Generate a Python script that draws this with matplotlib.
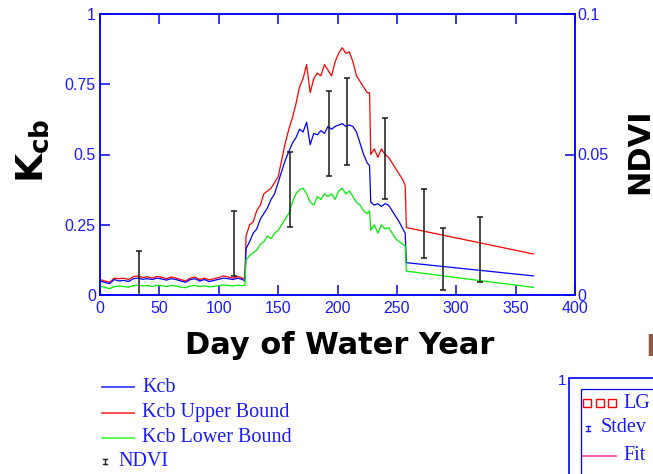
import matplotlib
matplotlib.use('Agg')
import matplotlib.pyplot as plt
from matplotlib.lines import Line2D
from matplotlib.patches import Rectangle

# Kcb curves (day of water year)
days = [0, 4, 8, 12, 16, 20, 24, 28, 32, 36, 40, 44, 48, 52, 56, 60, 64, 68, 72, 76,
        80, 84, 88, 92, 96, 100, 104, 108, 112, 116, 120, 122,
        123, 126, 129, 132, 135, 138, 141, 144, 147, 150, 153, 156, 159, 162, 165, 168,
        171, 174, 177, 180, 183, 186, 189, 192, 195, 198, 201, 204, 207, 210, 213, 216,
        219, 222, 225, 227,
        228, 231, 234, 237, 240, 243, 246, 249, 252, 255, 257, 258, 365]

kcb = [0.050, 0.045, 0.040, 0.055, 0.050, 0.052, 0.048, 0.058, 0.060, 0.056, 0.058, 0.055,
       0.060, 0.057, 0.053, 0.058, 0.055, 0.050, 0.045, 0.055, 0.058, 0.050, 0.055, 0.048,
       0.052, 0.056, 0.060, 0.058, 0.055, 0.060, 0.055, 0.050,
       0.165, 0.190, 0.220, 0.235, 0.270, 0.290, 0.310, 0.340, 0.360, 0.400, 0.440, 0.480,
       0.510, 0.540, 0.560, 0.590, 0.580, 0.615, 0.535, 0.575, 0.570, 0.585, 0.575, 0.600,
       0.590, 0.600, 0.605, 0.610, 0.600, 0.605, 0.600, 0.580, 0.540, 0.500, 0.470, 0.460,
       0.330, 0.320, 0.325, 0.315, 0.325, 0.320, 0.300, 0.280, 0.260, 0.235, 0.220, 0.115, 0.068]

kcb_upper = [0.055, 0.050, 0.045, 0.060, 0.058, 0.060, 0.055, 0.065, 0.068, 0.062, 0.065, 0.060,
             0.066, 0.063, 0.058, 0.064, 0.060, 0.055, 0.050, 0.060, 0.064, 0.055, 0.060, 0.054,
             0.058, 0.062, 0.068, 0.064, 0.060, 0.066, 0.060, 0.058,
             0.210, 0.250, 0.260, 0.300, 0.320, 0.360, 0.370, 0.380, 0.400, 0.420, 0.480, 0.540,
             0.590, 0.630, 0.680, 0.740, 0.770, 0.820, 0.720, 0.770, 0.790, 0.780, 0.820, 0.800,
             0.780, 0.830, 0.860, 0.880, 0.860, 0.865, 0.830, 0.780, 0.760, 0.740, 0.720, 0.720,
             0.500, 0.520, 0.490, 0.520, 0.500, 0.490, 0.470, 0.450, 0.430, 0.410, 0.390, 0.240, 0.146]

kcb_lower = [0.030, 0.028, 0.022, 0.030, 0.032, 0.030, 0.028, 0.033, 0.035, 0.032, 0.034, 0.030,
             0.035, 0.033, 0.030, 0.034, 0.032, 0.028, 0.026, 0.032, 0.034, 0.030, 0.033, 0.029,
             0.031, 0.033, 0.036, 0.034, 0.032, 0.035, 0.033, 0.035,
             0.125, 0.140, 0.150, 0.160, 0.180, 0.190, 0.210, 0.200, 0.220, 0.230, 0.250, 0.270,
             0.290, 0.330, 0.360, 0.375, 0.380, 0.360, 0.330, 0.320, 0.350, 0.340, 0.360, 0.350,
             0.360, 0.340, 0.370, 0.380, 0.360, 0.370, 0.350, 0.330, 0.320, 0.300, 0.290, 0.300,
             0.230, 0.250, 0.220, 0.250, 0.235, 0.240, 0.220, 0.200, 0.190, 0.180, 0.175, 0.085, 0.027]

# NDVI error bars (drawn against the Kcb scale)
ndvi_day = [33, 113, 160, 193, 208, 240, 273, 289, 320]
ndvi_lo = [0.0, 0.068, 0.243, 0.425, 0.461, 0.340, 0.133, 0.018, 0.045]
ndvi_hi = [0.157, 0.300, 0.508, 0.727, 0.772, 0.629, 0.378, 0.240, 0.277]

x_ticks = [0, 50, 100, 150, 200, 250, 300, 350, 400]
kcb_ticks = [0, 0.25, 0.5, 0.75, 1]
kcb_labels = ['0', '0.25', '0.5', '0.75', '1']
ndvi_ticks = [0, 0.05, 0.1]
ndvi_labels = ['0', '0.05', '0.1']

BLUE = '#0000ff'
TXT_BLUE = '#1a1aff'
W, H = 653, 474

plt.rcParams['font.family'] = ['Liberation Sans Narrow', 'Liberation Sans', 'DejaVu Sans']
plt.rcParams['font.size'] = 11


def fx(x):
    return x / W


def fy(y):
    return 1 - y / H


fig = plt.figure(figsize=(W / 100, H / 100), dpi=100)
ax = fig.add_axes([fx(100), fy(295), 475 / W, 281 / H])

ax.plot(days, kcb_upper, color='#ff0000', lw=0.9)
ax.plot(days, kcb, color='#0000ff', lw=0.9)
ax.plot(days, kcb_lower, color='#00ee00', lw=0.9)

mid = [(lo + hi) / 2 for lo, hi in zip(ndvi_lo, ndvi_hi)]
half = [(hi - lo) / 2 for lo, hi in zip(ndvi_lo, ndvi_hi)]
ax.errorbar(ndvi_day, mid, yerr=half, fmt='none', ecolor='#1a1a1a',
            elinewidth=1.1, capsize=2.2, capthick=1.1, zorder=5)

ax.set_xlim(0, 400)
ax.set_ylim(0, 1)
ax.set_xticks(x_ticks)
ax.set_xticklabels([str(t) for t in x_ticks])
ax.set_yticks(kcb_ticks)
ax.set_yticklabels(kcb_labels)
ax.tick_params(direction='in', length=7, width=1.1, color=BLUE, labelcolor=TXT_BLUE,
               top=True, right=False, labelsize=11.5)
ax.tick_params(axis='x', pad=4)
ax.tick_params(axis='y', pad=3)

ax2 = ax.twinx()
ax2.set_ylim(0, 0.1)
ax2.set_yticks(ndvi_ticks)
ax2.set_yticklabels(ndvi_labels)
ax2.tick_params(direction='in', length=7, width=1.1, color=BLUE, labelcolor=TXT_BLUE,
                labelsize=11.5, pad=1.5)

for a in (ax, ax2):
    for s in a.spines.values():
        s.set_color(BLUE)
        s.set_linewidth(1.1)

# axis titles
fig.text(fx(33), fy(151), r'$\mathbf{K_{cb}}$', rotation=90, ha='center', va='center',
         fontsize=27)
fig.text(fx(340), fy(346), 'Day of Water Year', ha='center', va='center',
         fontsize=22, fontweight='bold', family='DejaVu Sans')
fig.text(fx(640), fy(151), 'NDVI', rotation=90, ha='center', va='center',
         fontsize=22, fontweight='bold', family='DejaVu Sans')
fig.text(fx(645), fy(356), 'E', ha='left', va='baseline', fontsize=22,
         fontweight='bold', family='DejaVu Sans', color='#8c5a46')

# legend below the chart
leg_items = [('Kcb', '#4040ff', 387), ('Kcb Upper Bound', '#ff4040', 413),
             ('Kcb Lower Bound', '#40ff40', 438)]
for name, col, y in leg_items:
    fig.add_artist(Line2D([fx(102), fx(134)], [fy(y), fy(y)], color=col, lw=1.3))
    fig.text(fx(142), fy(y), name, ha='left', va='center', fontsize=14.5,
             family='Liberation Serif', color=TXT_BLUE)
fig.add_artist(Line2D([fx(105), fx(105)], [fy(459), fy(464)], color='#222222', lw=1))
fig.add_artist(Line2D([fx(103), fx(107)], [fy(459), fy(459)], color='#222222', lw=1))
fig.add_artist(Line2D([fx(103), fx(107)], [fy(464), fy(464)], color='#222222', lw=1))
fig.text(fx(118), fy(462), 'NDVI', ha='left', va='center', fontsize=14.5,
         family='Liberation Serif', color=TXT_BLUE)

# fragment of the neighbouring chart at bottom right
fig.add_artist(Rectangle((fx(569), fy(520)), 200 / W, 142 / H, transform=fig.transFigure,
                         fill=False, edgecolor=BLUE, lw=1.2))
fig.add_artist(Rectangle((fx(581), fy(520)), 200 / W, 131 / H, transform=fig.transFigure,
                         fill=False, edgecolor=BLUE, lw=0.9))
fig.text(fx(562), fy(381), '1', ha='center', va='center', fontsize=11, color=TXT_BLUE)
fig.add_artist(Line2D([fx(587), fx(599.5), fx(612)], [fy(403)] * 3, ls='none', marker='s',
                      markersize=6, markerfacecolor='none', markeredgecolor='#ff0000',
                      markeredgewidth=1))
fig.text(fx(623), fy(403), 'LG', ha='left', va='center', fontsize=14.5,
         family='Liberation Serif', color=TXT_BLUE)
fig.add_artist(Line2D([fx(588), fx(588)], [fy(426), fy(431)], color=TXT_BLUE, lw=1))
fig.add_artist(Line2D([fx(586), fx(590)], [fy(426), fy(426)], color=TXT_BLUE, lw=1))
fig.add_artist(Line2D([fx(586), fx(590)], [fy(431), fy(431)], color=TXT_BLUE, lw=1))
fig.text(fx(601), fy(428), 'Stdev', ha='left', va='center', fontsize=14.5,
         family='Liberation Serif', color=TXT_BLUE)
fig.add_artist(Line2D([fx(583), fx(616)], [fy(456), fy(456)], color='#ff4fa0', lw=1.3))
fig.text(fx(623), fy(456), 'Fit', ha='left', va='center', fontsize=14.5,
         family='Liberation Serif', color=TXT_BLUE)

fig.savefig('out.png', dpi=100)
